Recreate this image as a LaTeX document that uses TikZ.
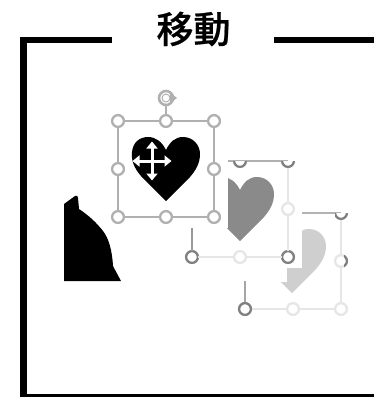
\documentclass[tikz,border=0pt]{standalone}
\usepackage{fontspec}
\newfontfamily\cjk[FakeBold=0.6]{Noto Sans CJK JP Medium}
\usetikzlibrary{arrows.meta}
\tikzset{
  frameline/.style={line width=6.5pt,line cap=butt,line join=miter},
  hnd/.style={circle,draw=#1,fill=white,line width=2.3pt,minimum size=11.8pt,inner sep=0pt,outer sep=0pt},
  hnd/.default={handlegray},
  link/.style={line width=2pt,draw=#1},
  link/.default={handlegray},
  curarrow/.style={draw=white,line width=3pt,{Triangle[width=11pt,length=7pt]}-{Triangle[width=11pt,length=7pt]}},
  heartshape/.pic={
    \fill[pic actions] (166,201) -- (141,176) .. controls (134,168) and (131,160) .. (132,152)
      .. controls (133,142) and (140,137) .. (148,137)
      .. controls (156,137) and (162,142) .. (166,150)
      .. controls (170,142) and (175,137) .. (183,137)
      .. controls (193,137) and (200,145) .. (200,154)
      .. controls (200,163) and (196,170) .. (190,177) -- cycle;
  }
}
\definecolor{handlegray}{HTML}{B0B0B0}
\definecolor{midgray}{HTML}{8A8A8A}
\definecolor{lightgray2}{HTML}{CFCFCF}
\definecolor{faint}{HTML}{E6E6E6}
\begin{document}
\begin{tikzpicture}[x=1pt,y=-1pt]
\useasboundingbox (0,0) rectangle (374,397);
% frame
\coordinate (fa) at (112,40);
\coordinate (fb) at (23.5,40);
\coordinate (fc) at (23.5,397);
\coordinate (fd) at (374,397);
\coordinate (fe) at (274,40);
\coordinate (ff) at (374,40);
\clip (0,0) rectangle (374,397);
\draw[frameline] (fa) -- (fb) -- (fc) -- (fd);
\draw[frameline] (fe) -- (ff);
\node[inner sep=0pt] (title) at (193.5,29) {\cjk\fontsize{37}{37}\selectfont 移動};
% left black shape
\fill[black] (64,281) -- (64,204) -- (75,196) .. controls (77,195) and (78,196) .. (78,198)
  -- (79,209) .. controls (88,215) and (96,222) .. (103,231)
  .. controls (109,239) and (112,250) .. (113,266) -- (121,281) -- cycle;
% third ghost
\begin{scope}
  \clip (302,220) -- (302,268) -- (287,268) -- (287,282) -- (270,282) -- (270,300) -- (345,300) -- (345,220) -- cycle;
  \pic[fill=lightgray2] at (126,92) {heartshape};
\end{scope}
\node[hnd=faint] (c1) at (245,309) {};
\coordinate (c1up) at (245,281);
\node[hnd=faint] (c2) at (293,309) {};
\node[hnd=faint] (c3) at (341,309) {};
\node[hnd=faint] (c4) at (341,261) {};
\coordinate (c5) at (341,213);
\coordinate (c6) at (302,213);
\draw[link=faint] (c1) -- (c2);
\draw[link=faint] (c2) -- (c3);
\draw[link=faint] (c3) -- (c4);
\draw[link=faint] (c4) -- (c5);
\draw[link=gray!70] (c1) -- (c1up);
\draw[link=gray!60] (c6) -- (c5);
\node[hnd=gray] at (c1) {};
\begin{scope}
  \clip (335,213) rectangle (350,225);
  \node[hnd=gray] at (c5) {};
\end{scope}
\begin{scope}
  \clip (344,250) rectangle (350,270);
  \node[hnd=gray] at (c4) {};
\end{scope}
% second ghost
\begin{scope}
  \clip (228,170) -- (228,228) -- (220,228) -- (220,250) -- (300,250) -- (300,170) -- cycle;
  \pic[fill=midgray] at (74,40) {heartshape};
\end{scope}
\coordinate (b1up) at (192,228);
\node[hnd=gray] (b1) at (192,257) {};
\node[hnd=faint] (b2) at (240,257) {};
\node[hnd=gray] (b3) at (288,257) {};
\node[hnd=faint] (b4) at (288,209) {};
\coordinate (b5) at (288,161);
\coordinate (b6) at (228,161);
\draw[link=faint] (b1) -- (b2);
\draw[link=faint] (b2) -- (b3);
\draw[link=faint] (b3) -- (b4);
\draw[link=faint] (b4) -- (b5);
\draw[link=gray!80] (b1) -- (b1up);
\draw[link=handlegray] (b6) -- (b5);
\begin{scope}
  \clip (228,161) rectangle (300,175);
  \node[hnd=gray] at (240,161) {};
  \node[hnd=gray] at (b5) {};
\end{scope}
% main selection
\node[hnd] (a1) at (118,121) {};
\node[hnd] (a2) at (166,121) {};
\node[hnd] (a3) at (214,121) {};
\node[hnd] (a4) at (214,169) {};
\node[hnd] (a5) at (214,217) {};
\node[hnd] (a6) at (166,217) {};
\node[hnd] (a7) at (118,217) {};
\node[hnd] (a8) at (118,169) {};
\draw[link] (a1) -- (a2);
\draw[link] (a2) -- (a3);
\draw[link] (a3) -- (a4);
\draw[link] (a4) -- (a5);
\draw[link] (a5) -- (a6);
\draw[link] (a6) -- (a7);
\draw[link] (a7) -- (a8);
\draw[link] (a8) -- (a1);
\pic[fill=black] {heartshape};
% rotate handle
\coordinate (rot) at (166,98);
\draw[link] (166,106) -- (a2);
\draw[handlegray,line width=2.6pt] (166,98) circle[radius=7pt];
\draw[handlegray,line width=1pt] (166,98) circle[radius=4pt];
\fill[handlegray] (177,98) -- (170,92.5) -- (170,103.5) -- cycle;
% cursor
\coordinate (mc) at (152,161);
\draw[curarrow] (132.5,161) -- (171.5,161);
\draw[curarrow] (152,141.5) -- (152,180.5);
\end{tikzpicture}
\end{document}
